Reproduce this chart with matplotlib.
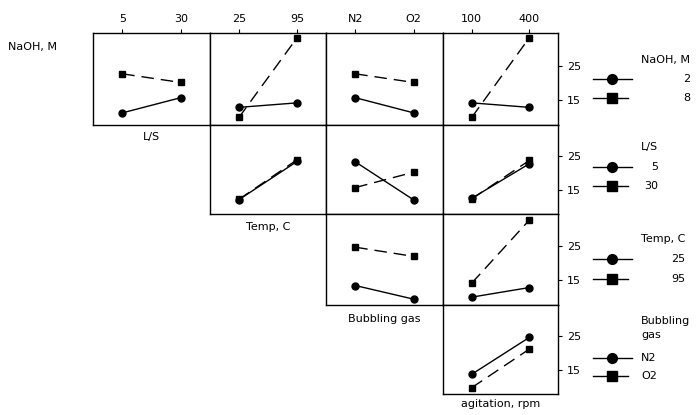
import matplotlib.pyplot as plt
from matplotlib.lines import Line2D

factors = ['NaOH, M', 'L/S', 'Temp, C', 'Bubbling gas', 'agitation, rpm']
levels = [['2', '8'], ['5', '30'], ['25', '95'], ['N2', 'O2'], ['100', '400']]

# mean response, [trace level][x level]
naoh_ls = [[11.3, 15.7], [22.6, 20.1]]
naoh_temp = [[12.9, 14.2], [10.0, 33.0]]
naoh_gas = [[15.7, 11.3], [22.6, 20.1]]
naoh_agit = [[14.2, 12.9], [10.0, 33.0]]
ls_temp = [[12.1, 23.5], [12.2, 24.0]]
ls_gas = [[23.4, 12.0], [15.7, 20.3]]
ls_agit = [[12.5, 22.8], [12.3, 23.8]]
temp_gas = [[13.5, 9.5], [24.7, 22.0]]
temp_agit = [[10.1, 12.9], [14.2, 32.6]]
gas_agit = [[13.7, 24.7], [9.7, 21.2]]

means = {
    (0, 1): naoh_ls, (0, 2): naoh_temp, (0, 3): naoh_gas, (0, 4): naoh_agit,
    (1, 2): ls_temp, (1, 3): ls_gas, (1, 4): ls_agit,
    (2, 3): temp_gas, (2, 4): temp_agit,
    (3, 4): gas_agit,
}

plt.rcParams['font.family'] = 'DejaVu Sans'
plt.rcParams['font.size'] = 8

W, H = 697, 415
fig = plt.figure(figsize=(W / 100, H / 100), dpi=100)

def fx(px):
    return px / W

def fy(py):
    return 1 - py / H

col_x = [93, 210, 326, 443, 558]
row_y = [33, 125, 214, 305, 394]

styles = [dict(marker='o', ls='-'), dict(marker='s', ls=(0, (9, 5)))]

for r in range(4):
    for c in range(r, 4):
        ax = fig.add_axes([fx(col_x[c]), fy(row_y[r + 1]),
                           fx(col_x[c + 1]) - fx(col_x[c]),
                           fy(row_y[r]) - fy(row_y[r + 1])])
        vals = means[(r, c + 1)]
        for k in range(2):
            ax.plot([0, 1], vals[k], color='black', lw=1, ms=5, **styles[k])
        ax.set_xlim(-0.5, 1.5)
        ax.set_ylim(7.8, 34.4)
        for s in ax.spines.values():
            s.set_linewidth(1)
        if r == 0:
            ax.xaxis.tick_top()
            ax.set_xticks([0, 1], levels[c + 1])
            ax.tick_params(axis='x', length=3, pad=3.5, labelsize=8)
        else:
            ax.set_xticks([])
        if c == 3:
            ax.yaxis.tick_right()
            ax.set_yticks([15, 25])
            ax.tick_params(axis='y', length=3, pad=3.5, labelsize=8)
        else:
            ax.set_yticks([])

# factor labels
fig.text(fx(8), fy(47), factors[0], ha='left', va='center')
label_y = [137, 227, 319, 404]
for i in range(4):
    cx = (col_x[i] + col_x[i + 1]) / 2
    fig.text(fx(cx), fy(label_y[i]), factors[i + 1], ha='center', va='center')

# legends
renderer = fig.canvas.get_renderer()
leg_pos = [(60, 79, 98), (147, 167, 186), (239, 259, 279), (328, 358, 376)]
leg_titles = ['NaOH, M', 'L/S', 'Temp, C', 'Bubbling\ngas']
for i in range(4):
    ty, e1, e2 = leg_pos[i]
    t = fig.text(fx(641), fy(ty), leg_titles[i], ha='left', va='center',
                 linespacing=1.5)
    bb = t.get_window_extent(renderer)
    right = bb.x1
    for k, ey in enumerate((e1, e2)):
        x_end = 632 if k == 0 else 628
        fig.add_artist(Line2D([fx(593), fx(x_end)], [fy(ey), fy(ey)],
                              color='black', lw=1, marker=None,
                              transform=fig.transFigure))
        fig.add_artist(Line2D([fx(612)], [fy(ey)], color='black',
                              marker=styles[k]['marker'], ms=7, ls='none',
                              transform=fig.transFigure))
        lab = levels[i][k]
        if lab.isdigit():
            fig.text(right / W, fy(ey), lab, ha='right', va='center')
        else:
            fig.text(fx(641), fy(ey), lab, ha='left', va='center')

fig.savefig('out.png', dpi=100)
